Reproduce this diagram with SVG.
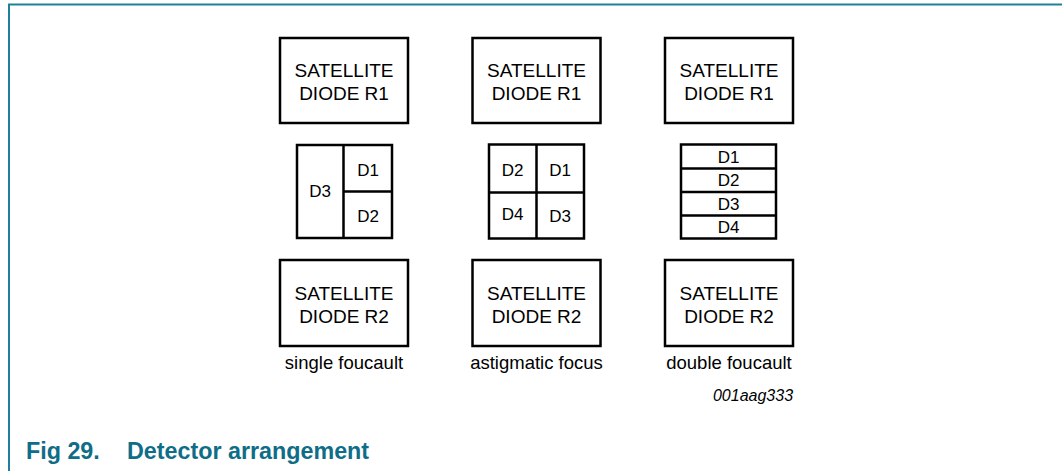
<svg xmlns="http://www.w3.org/2000/svg" width="1062" height="471" viewBox="0 0 1062 471">
<style>
.box{fill:#fff;stroke:#000;stroke-width:2.5}
.ln{stroke:#000;stroke-width:2.5;fill:none}
.t{font-family:"Liberation Sans",Arial,sans-serif;font-size:19px;fill:#000;text-anchor:middle}
.d{font-family:"Liberation Sans",Arial,sans-serif;font-size:17px;fill:#000;text-anchor:middle}
.cap{font-family:"Liberation Sans",Arial,sans-serif;font-size:18.5px;fill:#000;text-anchor:middle}
.id{font-family:"Liberation Sans",Arial,sans-serif;font-size:16px;font-style:italic;fill:#000;text-anchor:middle}
.title{font-family:"Liberation Sans",Arial,sans-serif;font-size:23.3px;font-weight:bold;fill:#0f6d88}
.frame{stroke:#1f809b;stroke-width:2;fill:none}
</style>
<rect width="1062" height="471" fill="#fff"/>
<path class="frame" d="M9,471 V4.5 H1062"/>
<g id="r1-a"><rect class="box" x="280" y="38" width="128" height="85"/><text class="t" x="344" y="77">SATELLITE</text><text class="t" x="344" y="100">DIODE R1</text></g>
<g id="r1-b"><rect class="box" x="472.5" y="38" width="128" height="85"/><text class="t" x="536.5" y="77">SATELLITE</text><text class="t" x="536.5" y="100">DIODE R1</text></g>
<g id="r1-c"><rect class="box" x="665" y="38" width="128" height="85"/><text class="t" x="729" y="77">SATELLITE</text><text class="t" x="729" y="100">DIODE R1</text></g>
<g id="det-a"><rect class="box" x="297" y="145" width="95" height="93"/><path class="ln" d="M343.5,145 V238 M343.5,191.5 H392"/>
<text class="d" x="320" y="197">D3</text><text class="d" x="368" y="176">D1</text><text class="d" x="368" y="222">D2</text></g>
<g id="det-b"><rect class="box" x="489" y="144.5" width="95" height="94"/><path class="ln" d="M536.5,144.5 V238.5 M489,192.5 H584"/>
<text class="d" x="512.5" y="176">D2</text><text class="d" x="560" y="176">D1</text><text class="d" x="512.5" y="220">D4</text><text class="d" x="560" y="222">D3</text></g>
<g id="det-c"><rect class="box" x="681" y="144.5" width="95" height="94"/><path class="ln" d="M681,168.5 H776 M681,192 H776 M681,215.5 H776"/>
<text class="d" x="728.5" y="163">D1</text><text class="d" x="728.5" y="186">D2</text><text class="d" x="728.5" y="210">D3</text><text class="d" x="728.5" y="233">D4</text></g>
<g id="r2-a"><rect class="box" x="280" y="260" width="128" height="86"/><text class="t" x="344" y="300">SATELLITE</text><text class="t" x="344" y="323">DIODE R2</text></g>
<g id="r2-b"><rect class="box" x="472.5" y="260" width="128" height="86"/><text class="t" x="536.5" y="300">SATELLITE</text><text class="t" x="536.5" y="323">DIODE R2</text></g>
<g id="r2-c"><rect class="box" x="665" y="260" width="128" height="86"/><text class="t" x="729" y="300">SATELLITE</text><text class="t" x="729" y="323">DIODE R2</text></g>
<g id="captions"><text class="cap" x="344" y="368.5">single foucault</text><text class="cap" x="536.5" y="368.5">astigmatic focus</text><text class="cap" x="729" y="368.5">double foucault</text></g>
<g id="connectors"/>
<text class="id" x="753" y="401">001aag333</text>
<text class="title" y="459"><tspan x="26">Fig 29.</tspan><tspan x="127">Detector arrangement</tspan></text>
</svg>
